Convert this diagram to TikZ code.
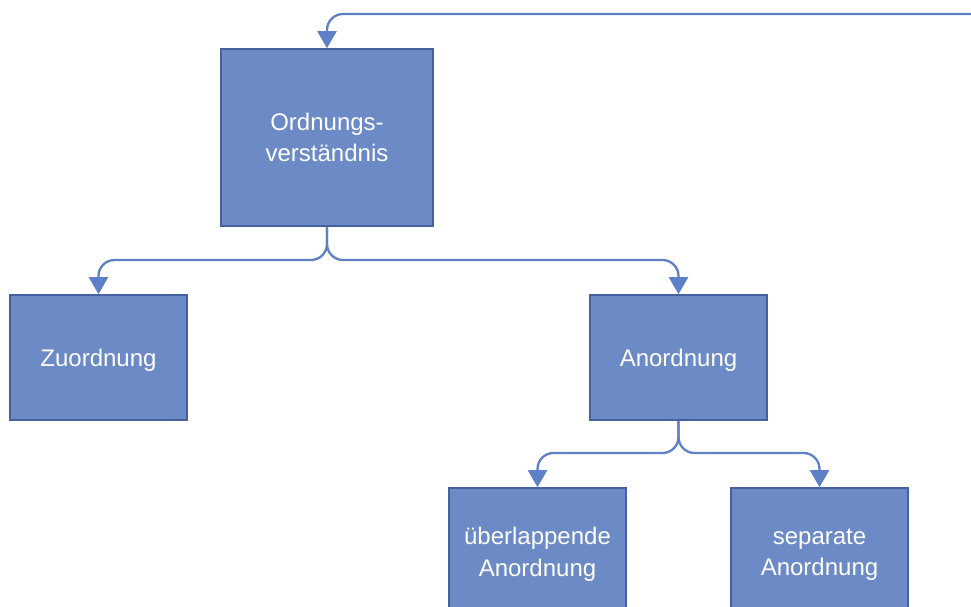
\documentclass[tikz,border=0pt]{standalone}
\usepackage{fontspec}
\setmainfont{Liberation Sans}
\usetikzlibrary{arrows.meta}
\definecolor{boxfill}{RGB}{107,138,198}
\definecolor{boxedge}{RGB}{70,98,158}
\definecolor{linkcol}{RGB}{94,128,198}
\begin{document}
\begin{tikzpicture}[x=1pt,y=-1pt,
  labeltext/.style={text=white,align=center,text depth=0pt,
    font=\fontsize{24}{31.5}\selectfont},
  conceptbox/.style={draw=boxedge,line width=1.6pt,fill=boxfill,inner sep=0pt,
    labeltext},
  link/.style={draw=linkcol,line width=2.3pt,rounded corners=16pt,
    -{Triangle[width=19pt,length=17pt]}}]
\useasboundingbox (0,0) rectangle (971,606);
\clip (0,0) rectangle (971,606);
% boxes
\node[conceptbox,minimum width=212pt,minimum height=177pt] (ov) at (327,137.5) {Ordnungs-\\verständnis};
\node[conceptbox,minimum width=177pt,minimum height=125pt] (zu) at (98.5,357.5) {Zuordnung};
\node[conceptbox,minimum width=177pt,minimum height=125pt] (an) at (678.5,357.5) {Anordnung};
\node[conceptbox,minimum width=177pt,minimum height=160pt] (ue) at (537.5,568) {};
\node[conceptbox,minimum width=177pt,minimum height=160pt] (se) at (819.5,568) {};
\node[labeltext] (uet) at (537.5,552) {überlappende\\Anordnung};
\node[labeltext] (set) at (819.5,552) {separate\\Anordnung};
% connectors
\coordinate (in) at (975,14);
\draw[link] (in) -- (327,14) -- (ov.north);
\draw[link] (ov.south) -- (327,260) -- (98.5,260) -- (zu.north);
\draw[link] (ov.south) -- (327,260) -- (678.5,260) -- (an.north);
\draw[link] (an.south) -- (678.5,453) -- (537.5,453) -- (ue.north);
\draw[link] (an.south) -- (678.5,453) -- (819.5,453) -- (se.north);
\end{tikzpicture}
\end{document}
